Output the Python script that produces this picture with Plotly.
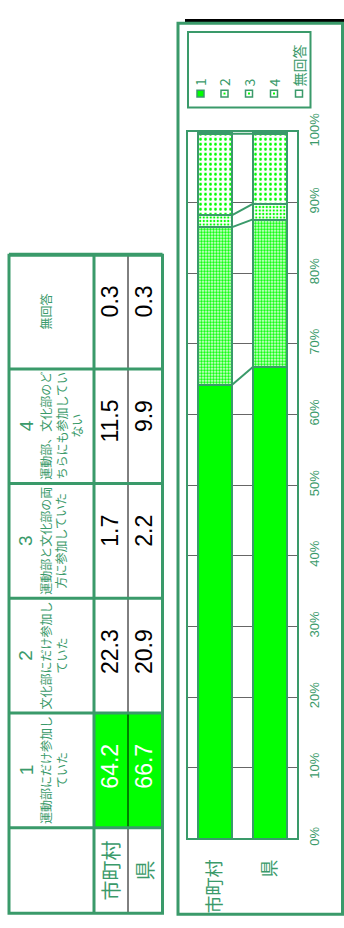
import plotly.graph_objects as go
import numpy as np

W, H = 344, 928

# ---------------- data ----------------
categories = ["市町村", "県"]
series_names = ["1", "2", "3", "4", "無回答"]
header_labels = [
    "運動部にだけ参加し<br>ていた",
    "文化部にだけ参加し<br>ていた",
    "運動部と文化部の両<br>方に参加していた",
    "運動部、文化部のど<br>ちらにも参加してい<br>ない",
    "無回答",
]
header_numbers = ["1", "2", "3", "4", ""]
values_city = [64.2, 22.3, 1.7, 11.5, 0.3]
values_pref = [66.7, 20.9, 2.2, 9.9, 0.3]
tick_values = [0, 10, 20, 30, 40, 50, 60, 70, 80, 90, 100]
tick_labels = ["0%", "10%", "20%", "30%", "40%", "50%", "60%", "70%", "80%", "90%", "100%"]

# ---------------- style ----------------
GREEN = "#3a9a6a"
BRIGHT = "#00ff00"
JP = "Noto Sans CJK JP, Liberation Sans, sans-serif"
NUM = "Liberation Sans, Arial, sans-serif"


def X(p):
    return p / W


def Y(p):
    return 1 - p / H


fig = go.Figure()

patterns = [
    None,
    dict(shape=".", size=3, solidity=0.6, fgcolor=BRIGHT, bgcolor="white", fillmode="replace"),
    dict(shape=".", size=3.5, solidity=0.35, fgcolor=BRIGHT, bgcolor="white", fillmode="replace"),
    dict(shape=".", size=5, solidity=0.25, fgcolor=BRIGHT, bgcolor="white", fillmode="replace"),
    None,
]
fills = [BRIGHT, "white", "white", "white", "white"]

BAR_W = 0.62
xpos = [0, 1]
for i, name in enumerate(series_names):
    marker = dict(color=fills[i], line=dict(color=GREEN, width=2))
    if patterns[i] is not None:
        marker["pattern"] = patterns[i]
    fig.add_trace(go.Bar(
        x=xpos, y=[values_city[i], values_pref[i]], width=BAR_W,
        marker=marker, name=name, showlegend=False, hoverinfo="skip",
    ))

cum_city = np.cumsum(values_city)[:-1]
cum_pref = np.cumsum(values_pref)[:-1]
for c, p in zip(cum_city, cum_pref):
    fig.add_trace(go.Scatter(
        x=[xpos[0] + BAR_W / 2, xpos[1] - BAR_W / 2], y=[c, p], mode="lines",
        line=dict(color=GREEN, width=2), showlegend=False, hoverinfo="skip",
    ))

shapes = []
annotations = []

# ---------------- table ----------------
T_L, T_R, T_T, T_B = 9, 162.5, 243, 920
X_SPLIT, X_MID = 94, 128
ROW_H = 118
row_tops = [714 - ROW_H * i for i in range(len(series_names))]

shapes.append(dict(type="rect", xref="paper", yref="paper", x0=X(X_SPLIT), x1=X(T_R),
                   y0=Y(row_tops[0]), y1=Y(row_tops[0] + ROW_H), fillcolor=BRIGHT,
                   line=dict(width=0), layer="above"))
shapes.append(dict(type="line", xref="paper", yref="paper", x0=X(X_MID), x1=X(X_MID),
                   y0=Y(T_T), y1=Y(T_B), line=dict(color="black", width=1)))
for rt in row_tops:
    shapes.append(dict(type="line", xref="paper", yref="paper", x0=X(T_L), x1=X(T_R),
                       y0=Y(rt), y1=Y(rt), line=dict(color=GREEN, width=3)))
shapes.append(dict(type="line", xref="paper", yref="paper", x0=X(T_L), x1=X(T_R),
                   y0=Y(row_tops[0] + ROW_H), y1=Y(row_tops[0] + ROW_H), line=dict(color=GREEN, width=3)))
shapes.append(dict(type="line", xref="paper", yref="paper", x0=X(X_SPLIT), x1=X(X_SPLIT),
                   y0=Y(T_T), y1=Y(T_B), line=dict(color=GREEN, width=3)))
shapes.append(dict(type="rect", xref="paper", yref="paper", x0=X(T_L), x1=X(T_R),
                   y0=Y(T_B), y1=Y(T_T), line=dict(color=GREEN, width=3)))

for i, name in enumerate(series_names):
    rc = row_tops[i] + ROW_H / 2
    if header_numbers[i]:
        annotations.append(dict(x=X(26), y=Y(rc), xref="paper", yref="paper", text=header_numbers[i],
                                textangle=-90, showarrow=False, font=dict(size=19, color=GREEN, family=NUM),
                                xanchor="center", yanchor="middle"))
    nlines = header_labels[i].count("<br>") + 1
    cx = 46 + (nlines - 1) * 15.5 / 2
    annotations.append(dict(x=X(cx), y=Y(rc), xref="paper", yref="paper", text=header_labels[i],
                            textangle=-90, showarrow=False, font=dict(size=12, color=GREEN, family=JP),
                            xanchor="center", yanchor="middle"))
    for vals, vx in ((values_city, 110), (values_pref, 144)):
        annotations.append(dict(x=X(vx), y=Y(row_tops[i] + 30), xref="paper", yref="paper",
                                text=f"{vals[i]:.1f}", textangle=-90, showarrow=False,
                                font=dict(size=23, color="white" if i == 0 else "black", family=NUM),
                                xanchor="center", yanchor="top"))

lab_c = (row_tops[0] + ROW_H + T_B) / 2
for cat, vx in zip(categories, (110, 144)):
    annotations.append(dict(x=X(vx), y=Y(lab_c), xref="paper", yref="paper", text=cat,
                            textangle=-90, showarrow=False, font=dict(size=20, color=GREEN, family=JP),
                            xanchor="center", yanchor="middle"))

# ---------------- chart panel ----------------
shapes.append(dict(type="line", xref="paper", yref="paper", x0=X(185), x1=X(344),
                   y0=Y(1.5), y1=Y(1.5), line=dict(color="black", width=3)))
shapes.append(dict(type="rect", xref="paper", yref="paper", x0=X(178), x1=X(342.5),
                   y0=Y(921), y1=Y(4.5), line=dict(color=GREEN, width=3)))
shapes.append(dict(type="rect", xref="paper", yref="paper", x0=X(188), x1=X(310.5),
                   y0=Y(91), y1=Y(13.5), line=dict(color=GREEN, width=2)))

leg_x = [200.5, 224.5, 249, 274, 299]
LEG_Y = 76.7
for i, name in enumerate(series_names):
    lx = leg_x[i]
    shapes.append(dict(type="rect", xref="paper", yref="paper", x0=X(lx - 3.5), x1=X(lx + 3.5),
                       y0=Y(LEG_Y + 3.5), y1=Y(LEG_Y - 3.5),
                       fillcolor=BRIGHT if i == 0 else "white", line=dict(color=GREEN, width=1.5)))
    if i in (1, 2, 3):
        shapes.append(dict(type="rect", xref="paper", yref="paper", x0=X(lx - 1), x1=X(lx + 1),
                           y0=Y(LEG_Y + 1), y1=Y(LEG_Y - 1), fillcolor=BRIGHT, line=dict(width=0)))
    annotations.append(dict(x=X(lx), y=Y(71.5), xref="paper", yref="paper", text=name,
                            textangle=-90, showarrow=False, font=dict(size=14, color=GREEN, family=JP),
                            xanchor="center", yanchor="bottom"))

fig.update_layout(
    width=W, height=H, margin=dict(l=0, r=0, t=0, b=0),
    paper_bgcolor="white", plot_bgcolor="white",
    barmode="stack", bargap=0,
    shapes=shapes, annotations=annotations,
    font=dict(family=JP, color=GREEN),
    xaxis=dict(domain=[X(188), X(297)], range=[-0.5, 1.5], tickvals=xpos, ticktext=categories,
               tickangle=-90, tickfont=dict(size=18, color=GREEN, family=JP),
               ticks="outside", ticklen=12, tickcolor="rgba(0,0,0,0)",
               showline=True, mirror=True, linecolor=GREEN, linewidth=2,
               showgrid=False, zeroline=False, fixedrange=True),
    yaxis=dict(domain=[Y(843), Y(116)], range=[0, 100], tickvals=tick_values, ticktext=tick_labels,
               side="right", tickangle=-90, tickfont=dict(size=13, color=GREEN, family=NUM),
               ticks="outside", ticklen=4, tickcolor="rgba(0,0,0,0)",
               showgrid=True, gridcolor="#666666", gridwidth=1,
               showline=True, mirror=True, linecolor=GREEN, linewidth=2,
               zeroline=False, fixedrange=True),
)

fig.write_html("out.html", config={"displayModeBar": False},
               post_script="document.body.style.margin='0px';")
